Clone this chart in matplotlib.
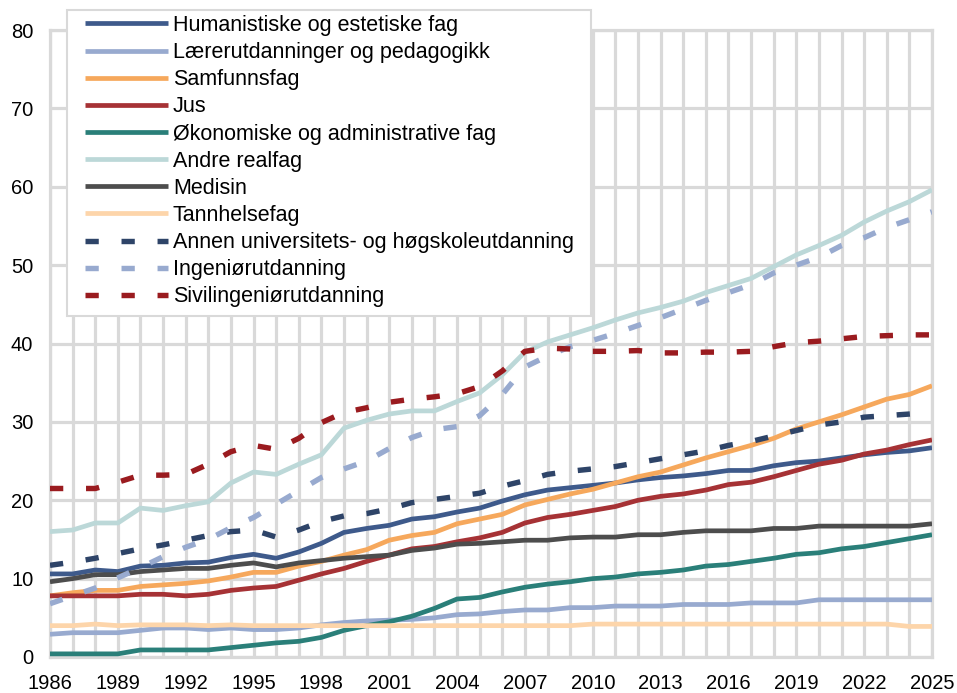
import matplotlib
matplotlib.use("Agg")
import matplotlib.pyplot as plt
from matplotlib.patches import Rectangle

years = list(range(1986, 2026))

human = [10.6, 10.6, 11.1, 10.9, 11.6, 11.7, 12.0, 12.1, 12.7, 13.1,
         12.6, 13.4, 14.5, 15.9, 16.4, 16.8, 17.6, 17.9, 18.5, 19.0,
         19.9, 20.7, 21.3, 21.6, 21.9, 22.2, 22.6, 22.9, 23.1, 23.4,
         23.8, 23.8, 24.4, 24.8, 25.0, 25.4, 25.8, 26.1, 26.3, 26.7]
laerer = [2.9, 3.1, 3.1, 3.1, 3.4, 3.7, 3.7, 3.5, 3.7, 3.5,
          3.5, 3.7, 4.1, 4.4, 4.6, 4.7, 4.8, 5.0, 5.4, 5.5,
          5.8, 6.0, 6.0, 6.3, 6.3, 6.5, 6.5, 6.5, 6.7, 6.7,
          6.7, 6.9, 6.9, 6.9, 7.3, 7.3, 7.3, 7.3, 7.3, 7.3]
samf = [7.8, 8.2, 8.5, 8.5, 9.0, 9.2, 9.4, 9.7, 10.2, 10.8,
        10.8, 11.6, 12.2, 13.0, 13.7, 14.9, 15.5, 15.9, 17.0, 17.6,
        18.2, 19.4, 20.1, 20.8, 21.4, 22.2, 23.0, 23.6, 24.5, 25.4,
        26.2, 27.0, 27.9, 29.1, 30.0, 30.9, 31.9, 32.9, 33.5, 34.6]
jus = [7.8, 7.8, 7.8, 7.8, 8.0, 8.0, 7.8, 8.0, 8.5, 8.8,
       9.0, 9.8, 10.6, 11.3, 12.2, 13.0, 13.8, 14.1, 14.7, 15.2,
       15.9, 17.1, 17.8, 18.2, 18.7, 19.2, 20.0, 20.5, 20.8, 21.3,
       22.0, 22.3, 23.0, 23.8, 24.6, 25.1, 25.9, 26.4, 27.1, 27.7]
okon = [0.4, 0.4, 0.4, 0.4, 0.9, 0.9, 0.9, 0.9, 1.2, 1.5,
        1.8, 2.0, 2.5, 3.4, 4.0, 4.5, 5.2, 6.2, 7.4, 7.6,
        8.3, 8.9, 9.3, 9.6, 10.0, 10.2, 10.6, 10.8, 11.1, 11.6,
        11.8, 12.2, 12.6, 13.1, 13.3, 13.8, 14.1, 14.6, 15.1, 15.6]
andre = [16.0, 16.2, 17.1, 17.1, 19.0, 18.7, 19.3, 19.8, 22.2, 23.6,
         23.3, 24.6, 25.8, 29.2, 30.2, 31.0, 31.4, 31.4, 32.6, 33.7,
         36.0, 38.9, 40.2, 41.1, 42.0, 43.0, 43.9, 44.6, 45.4, 46.5,
         47.4, 48.3, 49.8, 51.3, 52.5, 53.8, 55.5, 56.9, 58.1, 59.6]
medisin = [9.6, 10.0, 10.5, 10.5, 10.9, 11.1, 11.3, 11.3, 11.7, 12.0,
           11.5, 12.0, 12.3, 12.6, 12.8, 13.0, 13.6, 13.9, 14.4, 14.5,
           14.7, 14.9, 14.9, 15.2, 15.3, 15.3, 15.6, 15.6, 15.9, 16.1,
           16.1, 16.1, 16.4, 16.4, 16.7, 16.7, 16.7, 16.7, 16.7, 17.0]
tann = [4.0, 4.0, 4.2, 4.0, 4.1, 4.1, 4.1, 4.0, 4.1, 4.0,
        4.0, 4.0, 4.0, 4.0, 4.0, 4.0, 4.0, 4.0, 4.0, 4.0,
        4.0, 4.0, 4.0, 4.0, 4.2, 4.2, 4.2, 4.2, 4.2, 4.2,
        4.2, 4.2, 4.2, 4.2, 4.2, 4.2, 4.2, 4.2, 3.9, 3.9]
annen = [11.7, 12.1, 12.6, 13.2, 13.8, 14.3, 14.9, 15.5, 16.0, 16.2,
         15.3, 16.2, 17.3, 18.0, 18.3, 18.9, 19.7, 20.1, 20.5, 20.9,
         21.8, 22.5, 23.3, 23.7, 24.0, 24.3, 24.8, 25.3, 25.8, 26.3,
         27.0, 27.5, 28.2, 28.9, 29.6, 30.0, 30.6, 30.8, 31.0, 31.2]
ingen = [6.8, 7.8, 8.8, 10.1, 11.4, 12.8, 14.0, 15.0, 16.5, 17.8,
         19.5, 21.2, 22.9, 24.0, 25.0, 26.6, 28.0, 29.0, 29.4, 30.8,
         33.5, 37.0, 38.4, 39.6, 40.4, 41.3, 42.3, 43.3, 44.4, 45.5,
         46.5, 47.5, 49.0, 50.0, 51.0, 52.5, 53.5, 54.8, 55.8, 56.8]
siv = [21.5, 21.5, 21.5, 22.3, 23.2, 23.2, 23.3, 24.6, 26.2, 27.0,
       26.5, 27.9, 29.9, 31.2, 31.8, 32.5, 32.9, 33.2, 33.6, 34.5,
       36.5, 39.0, 39.4, 39.3, 39.0, 39.0, 39.1, 38.8, 38.8, 38.9,
       38.9, 39.0, 39.6, 40.1, 40.3, 40.6, 40.9, 41.0, 41.1, 41.1]

series = [
    ("Humanistiske og estetiske fag", human, "#3E5A8B", "-"),
    ("Lærerutdanninger og pedagogikk", laerer, "#98AACF", "-"),
    ("Samfunnsfag", samf, "#F6A85C", "-"),
    ("Jus", jus, "#A63235", "-"),
    ("Økonomiske og administrative fag", okon, "#2A7F79", "-"),
    ("Andre realfag", andre, "#BCD8D8", "-"),
    ("Medisin", medisin, "#4D4D4D", "-"),
    ("Tannhelsefag", tann, "#FDD5AA", "-"),
    ("Annen universitets- og høgskoleutdanning", annen, "#2E4468", "--"),
    ("Ingeniørutdanning", ingen, "#98AACF", "--"),
    ("Sivilingeniørutdanning", siv, "#9A1B1F", "--"),
]

plt.rcParams['font.family'] = ['Liberation Sans', 'DejaVu Sans']

W, H = 957, 693
fig = plt.figure(figsize=(W / 100, H / 100), dpi=100)
ax = fig.add_axes([50 / W, 1 - 657 / H, (932 - 50) / W, (657 - 30) / H])

grid_c = "#D9D9D9"
for name, vals, col, ls in series:
    if ls == "-":
        ax.plot(years, vals, color=col, lw=3.4, solid_joinstyle="round",
                solid_capstyle="butt", label=name, zorder=3)
    else:
        ax.plot(years, vals, color=col, lw=3.9, linestyle=(0, (2.45, 4.2)),
                dash_capstyle="butt", label=name, zorder=3)

ax.set_xlim(1986, 2025)
ax.set_ylim(0, 80)
ax.set_xticks(years)
ax.set_xticklabels([str(y) if (y - 1986) % 3 == 0 else "" for y in years])
ax.set_yticks(range(0, 81, 10))
ax.grid(True, color=grid_c, lw=2.3, zorder=0)
ax.set_axisbelow(True)
for s in ax.spines.values():
    s.set_color(grid_c)
    s.set_linewidth(2.3)
ax.tick_params(axis="both", length=0, labelsize=14.5, colors="black")
ax.tick_params(axis="y", pad=12)
ax.tick_params(axis="x", pad=12)

# legend frame box
box = Rectangle((67 / W, 1 - 316 / H), (591 - 67) / W, (316 - 10) / H,
                transform=fig.transFigure, facecolor="white",
                edgecolor=grid_c, lw=1.5, zorder=4, clip_on=False)
ax.add_patch(box)

leg = ax.legend(loc="upper left", bbox_to_anchor=(85 / W, 1 - 15 / H),
                bbox_transform=fig.transFigure, fontsize=15.5,
                handlelength=3.86, handletextpad=0.22, labelspacing=0.285,
                borderpad=0, borderaxespad=0, frameon=False)
leg.set_zorder(5)

fig.savefig("out.png", dpi=100)
